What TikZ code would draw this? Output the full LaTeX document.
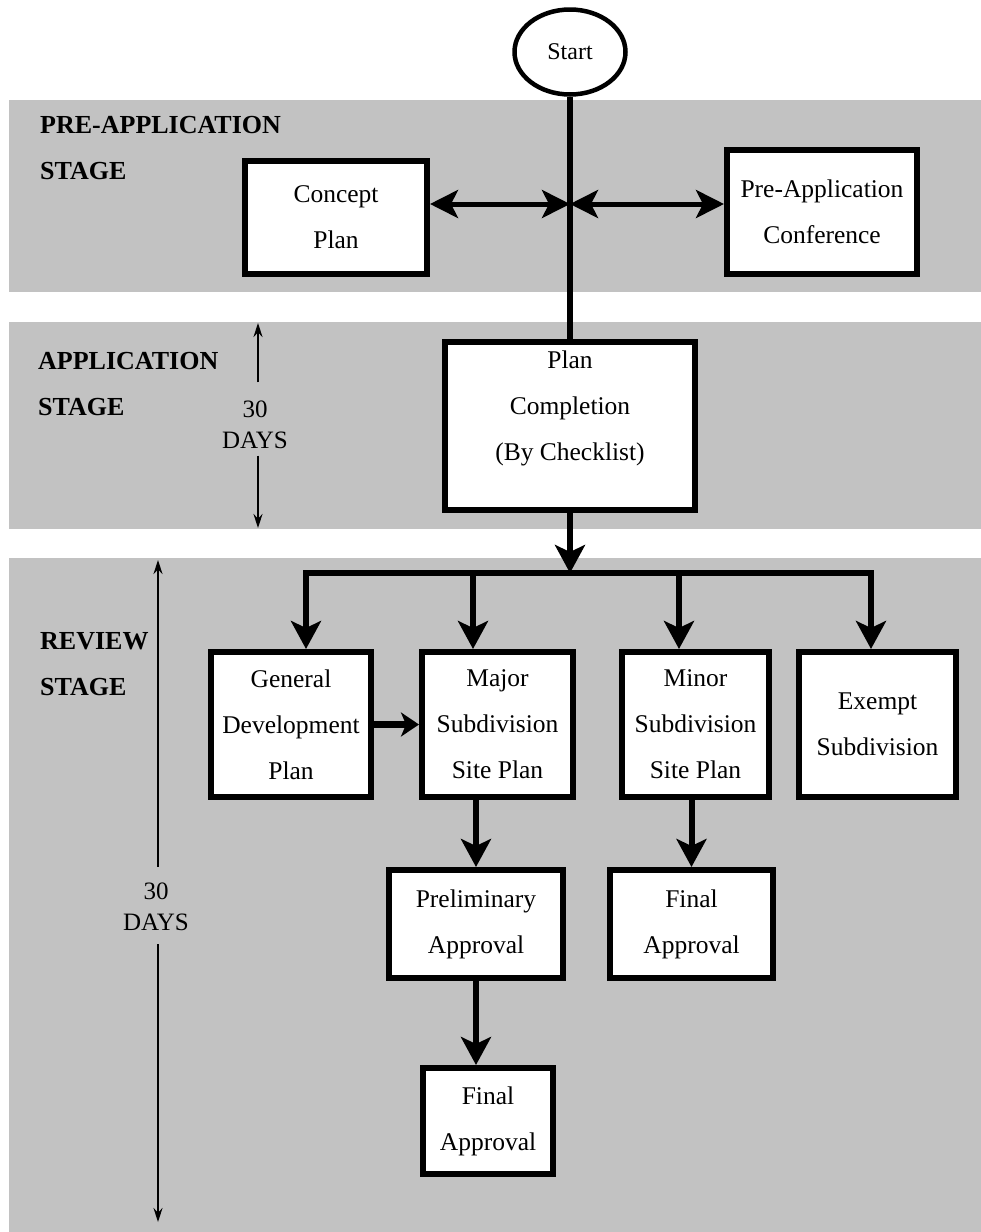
\documentclass[tikz,border=0pt]{standalone}
\usepackage{fontspec}
\setmainfont{Liberation Serif}
\usetikzlibrary{arrows.meta,shapes.geometric}
\tikzset{
  band/.style={fill=black!24, draw=none},
  procbox/.style={draw, line width=6pt, fill=white, align=center, inner sep=0pt,
    font=\fontsize{25.5}{46}\selectfont},
  stagetext/.style={anchor=west, align=left, inner sep=0pt,
    font=\bfseries\fontsize{26}{46}\selectfont},
  daystext/.style={align=center, inner sep=0pt, font=\fontsize{25}{31}\selectfont},
  flow/.style={line width=6pt, -{Stealth[length=28pt,width=30pt,inset=7pt]}},
  sideflow/.style={line width=7pt, -{Stealth[length=18pt,width=24pt,inset=5pt]}},
  twoway/.style={line width=5pt, {Stealth[length=28pt,width=28pt,inset=7pt]}-{Stealth[length=28pt,width=28pt,inset=7pt]}},
  daysarrow/.style={line width=1.4pt, -{Stealth[length=14pt,width=9pt]}}
}
\begin{document}
\begin{tikzpicture}[x=1pt, y=-1pt]
\useasboundingbox (0,0) rectangle (981,1232);
\fill[white] (0,0) rectangle (981,1232);
\fill[band] (9,100) rectangle (981,292);
\fill[band] (9,322) rectangle (981,529);
\fill[band] (9,558) rectangle (981,1232);

\node[stagetext] (prestage) at (40, 148.5){PRE-APPLICATION\\STAGE};
\node[stagetext] (appstage) at (38, 384.5){APPLICATION\\STAGE};
\node[stagetext] (revstage) at (40, 664.5){REVIEW\\STAGE};

\node[daystext] (days1) at (255, 424.5){30\\DAYS};
\node[daystext] (days2) at (156, 907){30\\DAYS};
\coordinate (d1top) at (258, 323);
\coordinate (d1bot) at (258, 528);
\coordinate (d2top) at (158, 560);
\coordinate (d2bot) at (158, 1222);
\draw[daysarrow, shorten <=18pt] (d1top |- days1.north) -- (d1top);
\draw[daysarrow, shorten <=7pt] (d1bot |- days1.south) -- (d1bot);
\draw[daysarrow, shorten <=16pt] (d2top |- days2.north) -- (d2top);
\draw[daysarrow, shorten <=13pt] (d2bot |- days2.south) -- (d2bot);

\node[draw, ellipse, line width=4.5pt, fill=white, minimum width=111pt, minimum height=85pt,
  inner sep=0pt, font=\fontsize{24}{28}\selectfont] (start) at (570, 52){Start};
\node[procbox, minimum width=182pt, minimum height=113pt] (concept) at (336, 217.5){Concept\\Plan};
\node[procbox, minimum width=190pt, minimum height=124pt] (preapp) at (822, 212){Pre-Application\\Conference};
\node[procbox, minimum width=250pt, minimum height=168pt] (plancomp) at (570, 426){Plan\\Completion\\(By Checklist)\\[-6pt]\vphantom{X}};

\node[procbox, minimum width=160pt, minimum height=145pt] (gdp) at (291, 724.5){General\\Development\\Plan};
\node[procbox, minimum width=151pt, minimum height=145pt] (major) at (497.5, 724.5){Major\\Subdivision\\Site Plan};
\node[procbox, minimum width=147pt, minimum height=145pt] (minor) at (695.5, 724.5){Minor\\Subdivision\\Site Plan};
\node[procbox, minimum width=157pt, minimum height=145pt] (exempt) at (877.5, 724.5){Exempt\\Subdivision};
\node[procbox, minimum width=174pt, minimum height=108pt] (prelim) at (476, 924){Preliminary\\Approval};
\node[procbox, minimum width=163pt, minimum height=108pt] (finalr) at (691.5, 924){Final\\Approval};
\node[procbox, minimum width=130pt, minimum height=106pt] (finalb) at (488, 1121){Final\\Approval};

\coordinate (hub) at (570, 204);
\coordinate (bus1) at (306, 573);
\coordinate (bus2) at (473, 573);
\coordinate (bus3) at (679, 573);
\coordinate (bus4) at (871, 573);

\draw[line width=6pt] (start.south) -- (plancomp.north);
\draw[twoway] (concept.east |- hub) -- (hub);
\draw[twoway] (hub) -- (preapp.west |- hub);
\draw[flow] (plancomp.south) -- (plancomp.south |- bus1);
\draw[line width=6pt, line cap=rect] (bus1) -- (bus4);
\draw[flow] (bus1) -- (bus1 |- gdp.north);
\draw[flow] (bus2) -- (bus2 |- major.north);
\draw[flow] (bus3) -- (bus3 |- minor.north);
\draw[flow] (bus4) -- (bus4 |- exempt.north);
\draw[sideflow] (gdp.east) -- (major.west);
\draw[flow] (prelim.north |- major.south) -- (prelim.north);
\draw[flow] (finalr.north |- minor.south) -- (finalr.north);
\draw[flow] (prelim.south) -- (prelim.south |- finalb.north);
\end{tikzpicture}
\end{document}
